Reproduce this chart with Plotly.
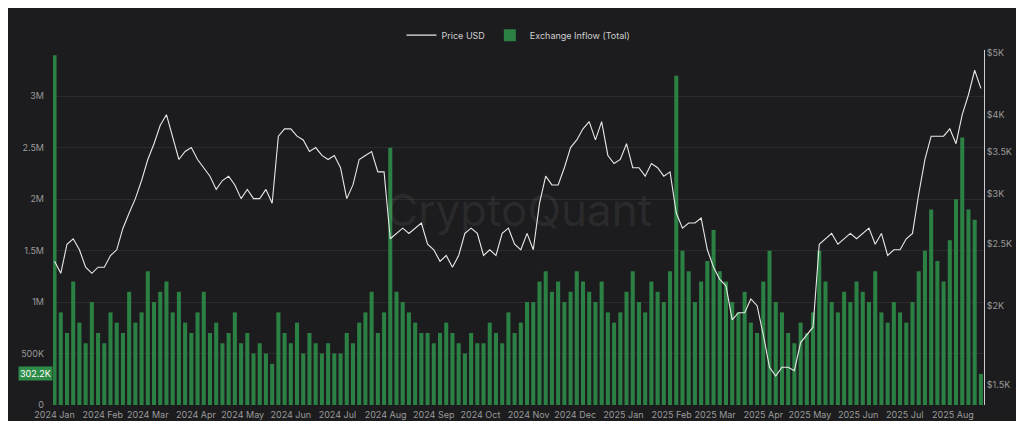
import pandas as pd
import plotly.graph_objects as go

# dates every 4 days, 2024-01-01 .. 2025-08-19
dates = pd.date_range("2024-01-01", periods=150, freq="4D")

priceUsd = [
    2350,2250,2500,2550,2450,2300,2250,2300,
    2300,2400,2450,2650,2800,2950,3150,
    3400,3600,3850,4000,3700,3400,3500,3550,
    3400,3300,3200,3050,3150,3200,3100,2950,
    3050,2950,2950,3050,2900,3700,3800,
    3800,3700,3650,3500,3550,3450,3400,3450,
    3300,2950,3100,3400,3450,3500,3250,3250,
    2550,2600,2650,2600,2650,2700,2500,
    2450,2350,2400,2300,2400,2600,2650,2600,
    2400,2450,2400,2600,2650,2500,2450,2600,
    2450,2900,3200,3100,3100,3300,3550,
    3650,3800,3900,3650,3900,3450,3350,3400,
    3600,3300,3300,3200,3350,3300,3200,3250,
    2800,2650,2700,2700,2750,2450,2300,
    2200,2150,1900,1950,1950,2050,2000,
    1800,1600,1550,1600,1600,1580,1750,1800,
    1850,2500,2550,2600,2500,2550,2600,2550,
    2600,2650,2500,2600,2400,2450,2450,
    2550,2600,3000,3400,3700,3700,3700,3800,
    3600,4000,4300,4700,4400,
]

inflowK = [
    3400,900,700,1200,800,600,1000,700,
    600,900,800,700,1100,800,900,
    1300,1000,1100,1200,900,1100,800,700,
    900,1100,700,800,600,700,900,600,
    700,500,600,500,400,900,700,
    600,800,500,700,600,500,600,500,
    500,700,600,800,900,1100,700,900,
    2500,1100,1000,900,800,700,700,
    600,700,800,700,600,500,700,600,
    600,800,700,600,900,700,800,1000,
    1000,1200,1300,1100,1200,1000,1100,
    1300,1200,1100,1000,1200,900,800,900,
    1100,1300,1000,900,1200,1100,1000,1300,
    3200,1500,1300,1000,1200,1400,1700,
    1300,1200,1000,900,1100,800,700,
    1200,1500,1000,900,700,600,800,700,
    900,1500,1200,1000,900,1100,1000,1200,
    1100,1000,1300,900,800,1000,900,
    800,1000,1300,1500,1900,1400,1200,1600,
    2000,2600,1900,1800,302.2,
]
inflow = [v * 1000 for v in inflowK]

bg = "#1c1c1e"
fig = go.Figure()
fig.add_trace(go.Bar(x=dates, y=inflow, name="Exchange Inflow (Total)",
                     marker=dict(color="rgba(46,140,72,0.9)", line_width=0)))
fig.add_trace(go.Scatter(x=dates, y=priceUsd, name="Price USD", yaxis="y2",
                         mode="lines", line=dict(color="#e8e8e8", width=1.1)))

fig.update_layout(
    width=1024, height=421,
    paper_bgcolor=bg, plot_bgcolor=bg,
    font=dict(family="Inter", color="#9a9a9a", size=9),
    margin=dict(l=45, r=48, t=42, b=24, autoexpand=False),
    bargap=0.35,
    legend=dict(orientation="h", x=0.5, xanchor="center", yref="container", y=0.97, yanchor="top",
                traceorder="reversed", font=dict(color="#cfcfcf", size=9)),
    xaxis=dict(showgrid=False, tickformat="%Y %b", dtick="M1", ticks="",
               range=["2023-12-31", "2025-08-21"], ticklabelstandoff=3),
    yaxis=dict(range=[0, 3450000], gridcolor="#2b2b2d", tickvals=[0,500000,1000000,1500000,2000000,2500000,3000000],
               ticktext=["0","500K","1M","1.5M","2M","2.5M","3M"], zeroline=False,
               ticklabelstandoff=8),
    yaxis2=dict(overlaying="y", side="right", type="log", range=[3.1446, 3.704],
                tickvals=[1500,2000,2500,3000,3500,4000,5000],
                ticktext=["$1.5K","$2K","$2.5K","$3K","$3.5K","$4K","$5K"],
                showgrid=False, showline=True, linecolor="#cfcfcf"),
    annotations=[
        dict(text="CryptoQuant", x=0.5, y=0.55, xref="paper", yref="paper", showarrow=False,
             font=dict(size=44, color="rgba(255,255,255,0.07)")),
        dict(text="$4.4K", x=1.0, xref="paper", y=4400, yref="y2", xanchor="left", showarrow=False,
             bgcolor="white", font=dict(color="black", size=9)),
        dict(text="302.2K", x=0, xref="paper", y=302200, yref="y", xanchor="right", showarrow=False,
             bgcolor="#2e8c48", font=dict(color="white", size=9)),
    ],
)
fig.write_html("out.html")
